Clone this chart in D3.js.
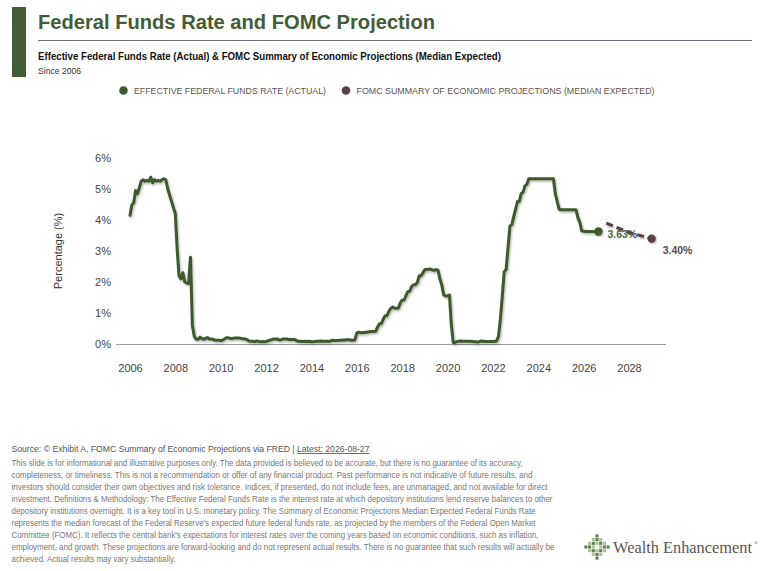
<!DOCTYPE html>
<html>
<head>
<meta charset="utf-8">
<script src="https://cdn.jsdelivr.net/npm/d3@7/dist/d3.min.js"></script>
<style>
  html, body { margin: 0; padding: 0; background: #fff; }
  svg text { font-family: "Liberation Sans", Arial, Helvetica, sans-serif; }
</style>
</head>
<body>
<svg id="chart" width="773" height="571"></svg>
<script>
// ---- data ----
var actualYears = ["2006","2007","2008","2009","2010","2011","2012","2013","2014","2015",
                   "2016","2017","2018","2019","2020","2021","2022","2023","2024","2025","2026"];

var effrMonthly = [
  // 2006
  4.15, 4.50, 4.55, 4.95, 4.85, 5.05, 5.25, 5.30, 5.25, 5.28, 5.25, 5.38,
  // 2007
  5.20, 5.30, 5.25, 5.28, 5.25, 5.30, 5.33, 5.30, 5.00, 4.80, 4.60, 4.40,
  // 2008
  4.20, 3.00, 2.20, 2.10, 2.30, 2.00, 1.97, 1.95, 2.80, 0.60, 0.25, 0.15,
  // 2009
  0.15, 0.22, 0.18, 0.15, 0.18, 0.21, 0.16, 0.16, 0.15, 0.12, 0.12, 0.12,
  // 2010
  0.11, 0.13, 0.16, 0.20, 0.20, 0.18, 0.18, 0.19, 0.19, 0.19, 0.19, 0.18,
  // 2011
  0.17, 0.16, 0.14, 0.10, 0.09, 0.09, 0.07, 0.10, 0.08, 0.07, 0.08, 0.07,
  // 2012
  0.08, 0.10, 0.13, 0.14, 0.16, 0.16, 0.16, 0.13, 0.14, 0.16, 0.16, 0.16,
  // 2013
  0.14, 0.15, 0.14, 0.15, 0.11, 0.09, 0.09, 0.08, 0.08, 0.09, 0.08, 0.09,
  // 2014
  0.07, 0.07, 0.08, 0.09, 0.09, 0.10, 0.09, 0.09, 0.09, 0.09, 0.09, 0.12,
  // 2015
  0.11, 0.11, 0.11, 0.12, 0.12, 0.13, 0.13, 0.14, 0.14, 0.12, 0.12, 0.13,
  // 2016
  0.36, 0.38, 0.36, 0.37, 0.37, 0.38, 0.39, 0.40, 0.40, 0.40, 0.41, 0.55,
  // 2017
  0.65, 0.66, 0.80, 0.91, 0.91, 1.06, 1.15, 1.20, 1.15, 1.15, 1.16, 1.33,
  // 2018
  1.42, 1.42, 1.55, 1.69, 1.70, 1.85, 1.91, 1.91, 1.98, 2.20, 2.20, 2.30,
  // 2019
  2.40, 2.40, 2.41, 2.42, 2.39, 2.38, 2.40, 2.38, 2.10, 1.90, 1.58, 1.55,
  // 2020
  1.55, 1.58, 0.65, 0.05, 0.05, 0.08, 0.09, 0.10, 0.09, 0.09, 0.09, 0.09,
  // 2021
  0.09, 0.08, 0.07, 0.07, 0.06, 0.08, 0.10, 0.09, 0.08, 0.08, 0.08, 0.08,
  // 2022
  0.08, 0.08, 0.10, 0.25, 0.80, 1.55, 2.33, 2.40, 3.10, 3.80, 3.85, 4.10,
  // 2023
  4.35, 4.60, 4.60, 4.85, 4.90, 5.10, 5.15, 5.33, 5.33, 5.33, 5.33, 5.33,
  // 2024
  5.33, 5.33, 5.33, 5.33, 5.33, 5.33, 5.33, 5.33, 5.33, 4.85, 4.60, 4.35,
  // 2025
  4.33, 4.33, 4.33, 4.33, 4.33, 4.33, 4.33, 4.33, 4.33, 4.07, 3.92, 3.65,
  // 2026 (Jan - Aug)
  3.64, 3.63, 3.63, 3.63, 3.63, 3.63, 3.63, 3.63
];

var latestDate = "2026-08-27";
var latestValue = 3.63;

var projDates = ["2026-12-31", "2027-12-31", "2028-12-31"];
var projValues = [3.9, 3.6, 3.4];

var yTicks = [0, 1, 2, 3, 4, 5, 6];

var legendLabels = ["EFFECTIVE FEDERAL FUNDS RATE (ACTUAL)", "FOMC SUMMARY OF ECONOMIC PROJECTIONS (MEDIAN EXPECTED)"];

var disclaimerLines = [
  "This slide is for informational and illustrative purposes only. The data provided is believed to be accurate, but there is no guarantee of its accuracy,",
  "completeness, or timeliness. This is not a recommendation or offer of any financial product. Past performance is not indicative of future results, and",
  "investors should consider their own objectives and risk tolerance. Indices, if presented, do not include fees, are unmanaged, and not available for direct",
  "investment. Definitions & Methodology: The Effective Federal Funds Rate is the interest rate at which depository institutions lend reserve balances to other",
  "depository institutions overnight. It is a key tool in U.S. monetary policy. The Summary of Economic Projections Median Expected Federal Funds Rate",
  "represents the median forecast of the Federal Reserve's expected future federal funds rate, as projected by the members of the Federal Open Market",
  "Committee (FOMC). It reflects the central bank's expectations for interest rates over the coming years based on economic conditions, such as inflation,",
  "employment, and growth. These projections are forward-looking and do not represent actual results. There is no guarantee that such results will actually be",
  "achieved. Actual results may vary substantially."
];
// measured line widths in the reference (layout only)
var disclaimerWidths = [511, 521, 536, 541, 524, 524, 527, 543, 164];

// ---- build series ----
var parseDay = d3.timeParse("%Y-%m-%d");
var months = d3.timeMonth.range(new Date(+actualYears[0], 0, 1), new Date(2026, 8, 1));
var actual = months.map(function(d, i){ return {date: d, value: effrMonthly[i]}; });
actual.push({date: parseDay(latestDate), value: latestValue});

var proj = projDates.map(function(d, i){ return {date: parseDay(d), value: projValues[i]}; });

// ---- colours ----
var green = "#3e5a2d";
var maroon = "#5b4141";

var svg = d3.select("#chart");

var defs = svg.append("defs");
var shadow = defs.append("filter").attr("id", "shadow")
  .attr("x", "-5%").attr("y", "-5%").attr("width", "110%").attr("height", "110%");
shadow.append("feDropShadow")
  .attr("dx", 1).attr("dy", 1.5).attr("stdDeviation", 1)
  .attr("flood-color", "#000").attr("flood-opacity", 0.3);

// ---- header ----
svg.append("rect").attr("x", 12).attr("y", 7).attr("width", 14).attr("height", 70).attr("fill", "#435c35");

svg.append("text").attr("x", 38).attr("y", 29)
  .attr("font-size", 20).attr("font-weight", "bold").attr("fill", "#435c35")
  .attr("textLength", 397).attr("lengthAdjust", "spacingAndGlyphs")
  .text("Federal Funds Rate and FOMC Projection");

svg.append("line").attr("x1", 38).attr("x2", 752).attr("y1", 40.5).attr("y2", 40.5)
  .attr("stroke", "#6b7080").attr("stroke-width", 1);

svg.append("text").attr("x", 38).attr("y", 59.5)
  .attr("font-size", 10).attr("font-weight", "bold").attr("fill", "#111")
  .attr("textLength", 463).attr("lengthAdjust", "spacingAndGlyphs")
  .text("Effective Federal Funds Rate (Actual) & FOMC Summary of Economic Projections (Median Expected)");

svg.append("text").attr("x", 38).attr("y", 74)
  .attr("font-size", 8.5).attr("fill", "#333")
  .attr("textLength", 43).attr("lengthAdjust", "spacingAndGlyphs")
  .text("Since 2006");

// ---- legend ----
var legendCols = [green, maroon];
var legendX = [123.5, 346];
var legendW = [192, 298];
legendLabels.forEach(function(lbl, i){
  svg.append("circle").attr("cx", legendX[i]).attr("cy", 90.5).attr("r", 4.3).attr("fill", legendCols[i]);
  svg.append("text").attr("x", legendX[i] + 10.5).attr("y", 94)
    .attr("font-size", 9).attr("fill", i === 0 ? "#555" : "#5e5050")
    .attr("textLength", legendW[i]).attr("lengthAdjust", "spacingAndGlyphs")
    .text(lbl);
});

// ---- scales ----
var plotLeft = 116, plotRight = 666;
var xBase = d3.scaleTime().domain([new Date(2006, 0, 1), new Date(2028, 0, 1)]).range([130, 629]);
var x = d3.scaleTime().domain([xBase.invert(plotLeft), xBase.invert(plotRight)]).range([plotLeft, plotRight]);
var y = d3.scaleLinear().domain([0, 6]).range([344, 158]);

// ---- axes ----
var yAxis = svg.append("g").attr("transform", "translate(" + plotLeft + ",0)")
  .call(d3.axisLeft(y).tickValues(yTicks).tickSize(0).tickPadding(5).tickFormat(function(d){ return d + "%"; }));
yAxis.select(".domain").remove();
yAxis.selectAll("text").attr("font-size", 11).attr("fill", "#444")
  .style("font-family", "'Liberation Sans', Arial, sans-serif");

var xAxis = svg.append("g").attr("transform", "translate(0," + y(0) + ")")
  .call(d3.axisBottom(x).ticks(d3.timeYear.every(2)).tickSize(0).tickPadding(20).tickFormat(d3.timeFormat("%Y")));
xAxis.select(".domain").remove();
xAxis.selectAll("text").attr("font-size", 11).attr("fill", "#444")
  .style("font-family", "'Liberation Sans', Arial, sans-serif");

svg.append("line").attr("x1", plotLeft).attr("x2", plotRight).attr("y1", y(0) + 0.5).attr("y2", y(0) + 0.5)
  .attr("stroke", "#9a9a9a").attr("stroke-width", 1);

svg.append("text")
  .attr("transform", "translate(58," + y(3) + ") rotate(-90)")
  .attr("text-anchor", "middle").attr("dominant-baseline", "central")
  .attr("font-size", 11).attr("fill", "#333")
  .text("Percentage (%)");

// ---- lines ----
var line = d3.line()
  .x(function(d){ return x(d.date); })
  .y(function(d){ return y(d.value); });

svg.append("path").datum(actual)
  .attr("d", line).attr("fill", "none")
  .attr("stroke", green).attr("stroke-width", 3)
  .attr("stroke-linejoin", "round").attr("stroke-linecap", "round")
  .attr("filter", "url(#shadow)");

var last = actual[actual.length - 1];
var projLast = proj[proj.length - 1];

// value labels (drawn under the dashed line)
svg.append("text").attr("x", x(last.date) + 9).attr("y", y(last.value) + 6.5)
  .attr("font-size", 10.5).attr("font-weight", "bold").attr("fill", "#4d6a3c")
  .text(d3.format(".2f")(last.value) + "%");

svg.append("text").attr("x", x(projLast.date) + 11).attr("y", y(projLast.value) + 15)
  .attr("font-size", 10.5).attr("font-weight", "bold").attr("fill", "#5b4848")
  .text(d3.format(".2f")(projLast.value) + "%");

svg.append("path").datum(proj)
  .attr("d", line).attr("fill", "none")
  .attr("stroke", maroon).attr("stroke-width", 3)
  .attr("stroke-dasharray", "7,4")
  .attr("filter", "url(#shadow)");

svg.append("circle").attr("cx", x(last.date)).attr("cy", y(last.value)).attr("r", 4.2)
  .attr("fill", green).attr("filter", "url(#shadow)");
svg.append("circle").attr("cx", x(projLast.date)).attr("cy", y(projLast.value)).attr("r", 4.2)
  .attr("fill", maroon).attr("filter", "url(#shadow)");

// ---- footer ----
var src = svg.append("text").attr("x", 11.5).attr("y", 452)
  .attr("font-size", 8.6).attr("fill", "#555")
  .attr("textLength", 358).attr("lengthAdjust", "spacingAndGlyphs");
src.append("tspan").text("Source: \u00A9 Exhibit A, FOMC Summary of Economic Projections via FRED | ");
src.append("tspan").attr("text-decoration", "underline").style("text-decoration", "underline").text("Latest: 2026-08-27");

svg.selectAll(".disc").data(disclaimerLines).enter().append("text")
  .attr("class", "disc")
  .attr("x", 11.5)
  .attr("y", function(d, i){ return 466 + i * 12; })
  .attr("font-size", 8.6).attr("fill", "#777")
  .attr("textLength", function(d, i){ return disclaimerWidths[i]; })
  .attr("lengthAdjust", "spacingAndGlyphs")
  .text(function(d){ return d; });

// ---- logo ----
var logoCells = [
  [0,0,0,1,0,0,0],
  [0,0,2,1,2,0,0],
  [0,2,1,2,1,2,0],
  [1,1,2,0,2,1,1],
  [0,2,1,2,1,2,0],
  [0,0,2,1,2,0,0],
  [0,0,0,1,0,0,0]
];
var cell = 3.7, logoCx = 597, logoCy = 547;
var logo = svg.append("g");
logoCells.forEach(function(row, r){
  row.forEach(function(v, c){
    if (!v) return;
    logo.append("rect")
      .attr("x", logoCx + (c - 3.5) * cell + 0.3)
      .attr("y", logoCy + (r - 3.5) * cell + 0.3)
      .attr("width", cell - 0.6).attr("height", cell - 0.6)
      .attr("fill", v === 1 ? "#5f8050" : "#a9c196");
  });
});

svg.append("text").attr("x", 613).attr("y", 553)
  .attr("font-size", 16).attr("fill", "#5c5552")
  .style("font-family", "'Liberation Serif', 'Times New Roman', serif")
  .attr("textLength", 139).attr("lengthAdjust", "spacingAndGlyphs")
  .text("Wealth Enhancement");
svg.append("text").attr("x", 753.5).attr("y", 545)
  .attr("font-size", 6).attr("fill", "#5c5552")
  .style("font-family", "'Liberation Serif', serif")
  .text("\u00AE");
</script>
</body>
</html>
